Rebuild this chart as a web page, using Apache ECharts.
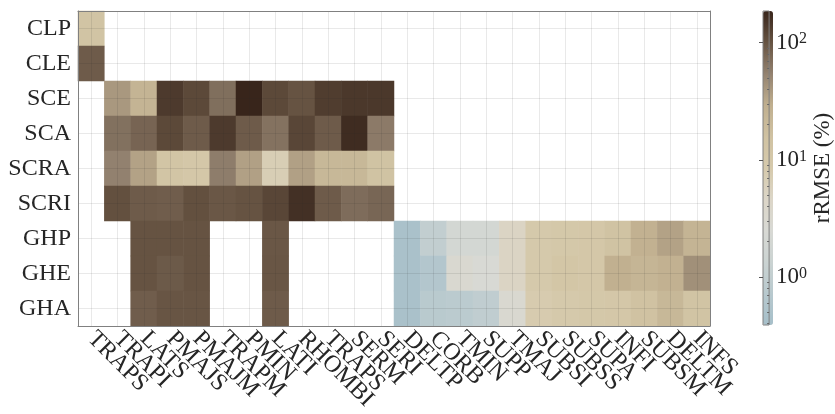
<!DOCTYPE html>
<html>
<head>
<meta charset="utf-8">
<script src="https://cdn.jsdelivr.net/npm/echarts@6/dist/echarts.min.js"></script>
<style>
html, body { margin: 0; padding: 0; background: #fff; }
#chart { width: 835px; height: 414px; }
</style>
</head>
<body>
<div id="chart"></div>
<script>
// 肌肉（列）与自由度（行）
const muscles = ['TRAPS', 'TRAPI', 'LATS', 'PMAJS', 'PMAJM', 'TRAPM', 'PMIN', 'LATI', 'RHOMBI', 'TRAPS', 'SERM', 'SERI',
    'DELTP', 'CORB', 'TMIN', 'SUPP', 'TMAJ', 'SUBSI', 'SUBSS', 'SUPA', 'INFI', 'SUBSM', 'DELTM', 'INFS']
const dofs = ['CLP', 'CLE', 'SCE', 'SCA', 'SCRA', 'SCRI', 'GHP', 'GHE', 'GHA']

// rRMSE (%)，null 表示空白
const CLP = [14, null, null, null, null, null, null, null, null, null, null, null, null, null, null, null, null, null, null, null, null, null, null, null]
const CLE = [90, null, null, null, null, null, null, null, null, null, null, null, null, null, null, null, null, null, null, null, null, null, null, null]
const SCE = [null, 40, 25, 140, 115, 70, 185, 115, 100, 135, 145, 145, null, null, null, null, null, null, null, null, null, null, null, null]
const SCA = [null, 68, 80, 115, 90, 140, 90, 67, 120, 90, 170, 60, null, null, null, null, null, null, null, null, null, null, null, null]
const SCRA = [null, 55, 35, 13, 11, 58, 36, 7, 36, 22, 22, 15, null, null, null, null, null, null, null, null, null, null, null, null]
const SCRI = [null, 105, 90, 88, 105, 95, 100, 120, 160, 90, 72, 78, null, null, null, null, null, null, null, null, null, null, null, null]
const GHP = [null, null, 100, 100, 100, null, null, 95, null, null, null, null, 0.45, 1.0, 2, 2, 5, 9, 10, 11, 15, 27, 35, 25]
const GHE = [null, null, 100, 92, 100, null, null, 96, null, null, null, null, 0.45, 0.6, 3, 2.5, 5, 9, 12, 11, 28, 24, 27, 45]
const GHA = [null, null, 88, 98, 98, null, null, 90, null, null, null, null, 0.45, 0.75, 0.8, 0.95, 3, 8, 9, 10, 11, 16, 22, 14]
const rows = [CLP, CLE, SCE, SCA, SCRA, SCRI, GHP, GHE, GHA]

// 色条刻度（10 的幂）
const cbTicks = [0, 1, 2]

const font = 'Liberation Serif'
const txt = '#262626'
const edge = '#808080'
const gridColor = 'rgba(38,38,38,0.1)'
// 对数色阶范围
const cbMin = -0.41
const cbMax = 2.27
const cmap = ['#a6bfc9', '#b8c9ce', '#cbd3d2', '#d8d9d4', '#dcd6c8', '#d6caac', '#d0c2a2', '#c0af8f', '#938270', '#665342', '#38251b']

//组装热力图数据
const heatData = []
rows.forEach((row, r) => {
    row.forEach((v, c) => {
        if (v != null) heatData.push([c, r, Math.log10(v)])
    })
})

//色条次刻度
const minorTicks = []
for (let e = -1; e <= 2; e++) {
    for (let k = 2; k <= 9; k++) {
        const t = e + Math.log10(k)
        if (t > cbMin && t < cbMax) minorTicks.push(t)
    }
}

const myChart = echarts.init(document.getElementById('chart'))

const option = {
    animation: false,
    grid: [
        { left: 78, top: 11, right: 125, bottom: 88 },
        { left: 763, top: 11, width: 10, height: 314, show: true, z: 10, borderColor: edge, borderWidth: 1, backgroundColor: 'transparent' }
    ],
    xAxis: [
        {
            type: 'category', data: muscles, position: 'bottom', z: 5,
            axisLine: { lineStyle: { color: edge } },
            axisTick: { inside: true, alignWithLabel: true, length: 4, lineStyle: { color: edge } },
            axisLabel: { interval: 0, rotate: -45, margin: 9, color: txt, fontFamily: font, fontSize: 24 },
            splitLine: { show: true, alignWithLabel: true, lineStyle: { color: gridColor } }
        },
        {
            type: 'category', data: muscles, position: 'top', z: 5,
            axisLine: { lineStyle: { color: edge } },
            axisTick: { inside: true, alignWithLabel: true, length: 4, lineStyle: { color: edge } },
            axisLabel: { show: false },
            splitLine: { show: false }
        },
        { type: 'value', gridIndex: 1, show: false, min: 0, max: 1 }
    ],
    yAxis: [
        {
            type: 'category', data: dofs, inverse: true, position: 'left', z: 5,
            axisLine: { lineStyle: { color: edge } },
            axisTick: { inside: true, alignWithLabel: true, length: 4, lineStyle: { color: edge } },
            axisLabel: { margin: 7, color: txt, fontFamily: font, fontSize: 24 },
            splitLine: { show: true, alignWithLabel: true, lineStyle: { color: gridColor } }
        },
        {
            type: 'category', data: dofs, inverse: true, position: 'right', z: 5,
            axisLine: { lineStyle: { color: edge } },
            axisTick: { inside: true, alignWithLabel: true, length: 4, lineStyle: { color: edge } },
            axisLabel: { show: false },
            splitLine: { show: false }
        },
        {
            type: 'value', gridIndex: 1, min: cbMin, max: cbMax, position: 'right', z: 12,
            axisLine: { show: false },
            axisTick: { show: true, inside: true, length: 4, customValues: cbTicks, lineStyle: { color: '#555' } },
            axisLabel: {
                customValues: cbTicks, margin: 7, color: txt,
                formatter: v => '{b|10}{s|' + Math.round(v) + '}',
                rich: {
                    b: { fontFamily: font, fontSize: 23, color: txt },
                    s: { fontFamily: font, fontSize: 16, color: txt, verticalAlign: 'top', lineHeight: 14 }
                }
            },
            splitLine: { show: false },
            name: 'rRMSE (%)', nameLocation: 'middle', nameGap: 40,
            nameTextStyle: { fontFamily: font, fontSize: 23, color: txt }
        },
        {
            type: 'value', gridIndex: 1, min: cbMin, max: cbMax, position: 'right', z: 12,
            axisLine: { show: false },
            axisTick: { show: true, inside: true, length: 2, customValues: minorTicks, lineStyle: { color: '#666' } },
            axisLabel: { show: false },
            splitLine: { show: false }
        }
    ],
    visualMap: {
        type: 'continuous', seriesIndex: 0, dimension: 2,
        min: cbMin, max: cbMax, calculable: false, show: true,
        left: 763, top: 11, itemWidth: 10, itemHeight: 314, padding: 0,
        text: null, showLabel: false,
        inRange: { color: cmap }
    },
    series: [{
        type: 'heatmap', xAxisIndex: 0, yAxisIndex: 0,
        data: heatData,
        itemStyle: { borderWidth: 0 },
        emphasis: { disabled: true }
    }]
}

myChart.setOption(option)
</script>
</body>
</html>
